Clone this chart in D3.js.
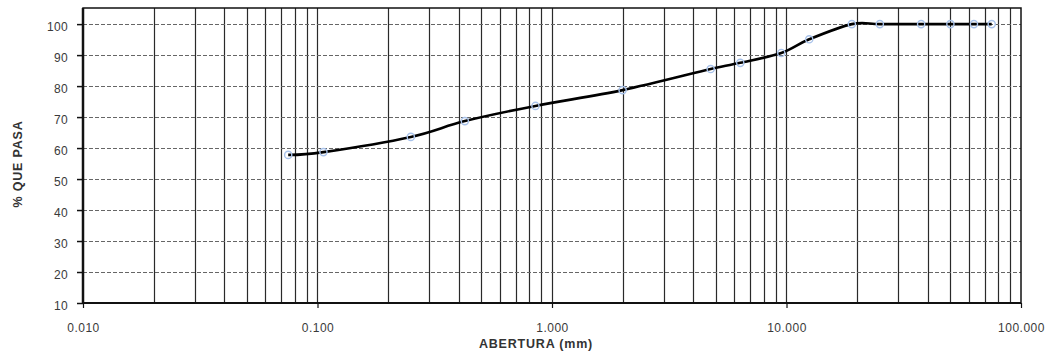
<!DOCTYPE html>
<html>
<head>
<meta charset="utf-8">
<script src="https://cdn.jsdelivr.net/npm/d3@7/dist/d3.min.js"></script>
<style>
  html, body { margin: 0; padding: 0; background: #fff; }
  svg { display: block; font-family: "Liberation Sans", Arial, sans-serif; }
</style>
</head>
<body>
<svg id="chart" width="1051" height="354"></svg>
<script>
// Sieve openings (mm) and cumulative percent passing
const aperturas = [0.075, 0.106, 0.25, 0.425, 0.85, 2.0, 4.75, 6.35, 9.5, 12.5, 19.0, 25.0, 37.5, 50.0, 63.0, 75.0];
const pasa      = [57.8, 58.7, 63.6, 68.7, 73.6, 78.7, 85.5, 87.5, 90.7, 95.1, 100, 100, 100, 100, 100, 100];

const xTickValues = [0.01, 0.1, 1, 10, 100];
const xTickLabels = ["0.010", "0.100", "1.000", "10.000", "100.000"];
const yTickValues = [10, 20, 30, 40, 50, 60, 70, 80, 90, 100];

const svg = d3.select("#chart");
const plotL = 83, plotR = 1021, plotT = 8, plotB = 303;
const labelFont = "12px";

const x = d3.scaleLog().domain([0.01, 100]).range([plotL, plotR]);
const y = d3.scaleLinear().domain([10, 105.2]).range([plotB, plotT]);

// vertical log grid: every 1..9 multiple in each decade
const minor = [];
for (let e = -2; e < 2; e++) {
  for (let m = 1; m <= 9; m++) minor.push(m * Math.pow(10, e));
}
svg.append("g").selectAll("line").data(minor.filter(v => v > 0.01)).join("line")
  .attr("x1", d => Math.round(x(d)) + 0.5).attr("x2", d => Math.round(x(d)) + 0.5)
  .attr("y1", plotT).attr("y2", plotB)
  .attr("stroke", "#2a2a2a").attr("stroke-width", 1.2);

// horizontal dashed grid
svg.append("g").selectAll("line").data(yTickValues.filter(v => v > 10)).join("line")
  .attr("x1", plotL).attr("x2", plotR)
  .attr("y1", d => Math.round(y(d)) + 0.5).attr("y2", d => Math.round(y(d)) + 0.5)
  .attr("stroke", "#666").attr("stroke-width", 1.2)
  .attr("stroke-dasharray", "4,2");

// plot frame
svg.append("rect")
  .attr("x", plotL).attr("y", plotT).attr("width", plotR - plotL).attr("height", plotB - plotT)
  .attr("fill", "none").attr("stroke", "#111").attr("stroke-width", 1.5);
svg.append("line").attr("x1", plotL).attr("x2", plotL).attr("y1", plotT).attr("y2", plotB)
  .attr("stroke", "#111").attr("stroke-width", 2.5);
svg.append("line").attr("x1", plotL).attr("x2", plotR).attr("y1", plotB).attr("y2", plotB)
  .attr("stroke", "#111").attr("stroke-width", 2.2);

// y axis
const yAxis = d3.axisLeft(y).tickValues(yTickValues).tickSize(6).tickPadding(9);
const gy = svg.append("g").attr("transform", `translate(${plotL},0)`).call(yAxis);
gy.select(".domain").remove();
gy.selectAll(".tick line").attr("stroke", "#111").attr("stroke-width", 1.5);
gy.selectAll(".tick text").attr("fill", "#3a3a3a").style("font-size", labelFont)
  .style("letter-spacing", "0.3px").attr("dy", "0.5em")
  .style("font-family", "'Liberation Sans', Arial, sans-serif");

// x axis
const xAxis = d3.axisBottom(x).tickValues(xTickValues)
  .tickFormat((d, i) => xTickLabels[i]).tickSize(5).tickPadding(15);
const gx = svg.append("g").attr("transform", `translate(0,${plotB})`).call(xAxis);
gx.select(".domain").remove();
gx.selectAll(".tick line").attr("stroke", "#111").attr("stroke-width", 1.2);
gx.selectAll(".tick text").attr("fill", "#3a3a3a").style("font-size", labelFont)
  .style("letter-spacing", "0.5px")
  .style("font-family", "'Liberation Sans', Arial, sans-serif");

// axis titles
svg.append("text")
  .attr("transform", "translate(22,164) rotate(-90)")
  .attr("text-anchor", "middle")
  .attr("fill", "#333").style("font-size", "12.5px").style("font-weight", "bold")
  .style("letter-spacing", "0.8px")
  .text("% QUE PASA");
svg.append("text")
  .attr("x", 536).attr("y", 348)
  .attr("text-anchor", "middle")
  .attr("fill", "#333").style("font-size", "12.5px").style("font-weight", "bold")
  .style("letter-spacing", "0.8px")
  .text("ABERTURA (mm)");

// gradation curve
const pts = aperturas.map((a, i) => [a, pasa[i]]);
svg.append("path")
  .datum(pts)
  .attr("fill", "none").attr("stroke", "#000").attr("stroke-width", 2.6)
  .attr("d", d3.line().x(d => x(d[0])).y(d => y(d[1])).curve(d3.curveCatmullRom.alpha(0)));

// markers
svg.append("g").selectAll("circle").data(pts).join("circle")
  .attr("cx", d => x(d[0])).attr("cy", d => y(d[1])).attr("r", 3.6)
  .attr("fill", "none").attr("stroke", "#a8c2ea").attr("stroke-width", 1.4);
</script>
</body>
</html>
